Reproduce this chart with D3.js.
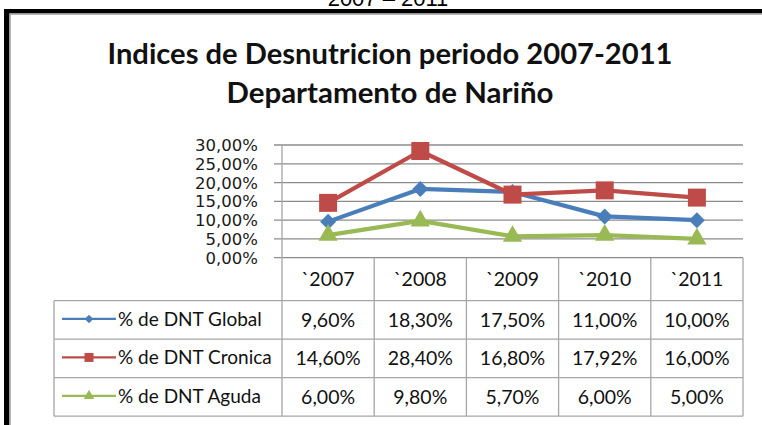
<!DOCTYPE html>
<html>
<head>
<meta charset="utf-8">
<script src="https://cdn.jsdelivr.net/npm/d3@7"></script>
<style>
  body { margin: 0; background: #fff; }
</style>
</head>
<body>
<div id="chart"></div>
<script>
// Datos
var years = ["`2007", "`2008", "`2009", "`2010", "`2011"];
var seriesNames = ["% de DNT Global", "% de DNT Cronica", "% de DNT Aguda"];
var global = [9.60, 18.30, 17.50, 11.00, 10.00];
var cronica = [14.60, 28.40, 16.80, 17.92, 16.00];
var aguda = [6.00, 9.80, 5.70, 6.00, 5.00];
var yTicks = [0, 5, 10, 15, 20, 25, 30];
var titleLines = ["Indices de Desnutricion periodo 2007-2011", "Departamento de Nariño"];
var topCaption = "2007 – 2011";

var series = [
    { name: seriesNames[0], values: global, color: "#4a7ebb", shape: "diamond" },
    { name: seriesNames[1], values: cronica, color: "#be4b48", shape: "square" },
    { name: seriesNames[2], values: aguda, color: "#98b954", shape: "triangle" }
];

var W = 762, H = 425;
var fontUI = "Lato, 'Open Sans', sans-serif";

var svg = d3.select("#chart").append("svg")
    .attr("width", W)
    .attr("height", H);

// texto cortado arriba
svg.append("text")
    .attr("x", 388).attr("y", 6)
    .attr("text-anchor", "middle")
    .style("font-family", "'Liberation Sans', Arial, sans-serif")
    .style("font-size", "22px")
    .attr("fill", "#000")
    .text(topCaption);

// borde del grafico
svg.append("rect").attr("x", 4).attr("y", 9).attr("width", W - 4).attr("height", 4.5).attr("fill", "#000");
svg.append("rect").attr("x", 4).attr("y", 9).attr("width", 5.5).attr("height", H - 9).attr("fill", "#000");
svg.append("path")
    .attr("d", "M 10 " + H + " L 10 14 L " + W + " 14")
    .attr("fill", "none").attr("stroke", "#a0a0a0").attr("stroke-width", 1.5);

// titulo
var titleWidths = [565, 327];
svg.selectAll("text.title").data(titleLines).enter().append("text")
    .attr("class", "title")
    .attr("x", 390)
    .attr("y", (d, i) => 64 + i * 39)
    .attr("text-anchor", "middle")
    .attr("textLength", (d, i) => titleWidths[i])
    .attr("lengthAdjust", "spacingAndGlyphs")
    .style("font-family", fontUI)
    .style("font-size", "28px")
    .style("font-weight", "bold")
    .attr("fill", "#111")
    .text(d => d);

// Escalas
var x = d3.scaleBand()
    .domain(years)
    .range([282, 743]);

var y = d3.scaleLinear()
    .domain([0, 30])
    .range([257.7, 145]);

var fmt = v => d3.format(".2f")(v).replace(".", ",") + "%";

// rejilla
var grid = svg.append("g");
grid.selectAll("line").data(yTicks).enter().append("line")
    .attr("x1", 274).attr("x2", 743)
    .attr("y1", d => y(d)).attr("y2", d => y(d))
    .attr("stroke", "#8c8c8c").attr("stroke-width", 1.3);

svg.append("g").selectAll("text").data(yTicks).enter().append("text")
    .attr("x", 258)
    .attr("y", d => y(d) + 6)
    .attr("text-anchor", "end")
    .style("font-family", "'DejaVu Sans', sans-serif")
    .style("font-size", "16.5px")
    .attr("fill", "#1a1a1a")
    .text(fmt);

// tabla de datos
var rowTop = 300.7, rowH = 38.5;
var tbl = svg.append("g")
    .attr("fill", "none")
    .attr("stroke", "#a6a6a6")
    .attr("stroke-width", 1.3);

// lineas verticales de columnas
var colEdges = years.map(d => x(d)).concat([x.range()[1]]);
tbl.selectAll("line.v").data(colEdges).enter().append("line")
    .attr("class", "v")
    .attr("x1", d => d).attr("x2", d => d)
    .attr("y1", (d, i) => i === 0 ? 145 : y(0))
    .attr("y2", rowTop + rowH * series.length);
tbl.append("line").attr("x1", 54).attr("x2", 54)
    .attr("y1", rowTop).attr("y2", rowTop + rowH * series.length);

// lineas horizontales
var rowEdges = d3.range(series.length + 1).map(i => rowTop + i * rowH);
tbl.selectAll("line.h").data(rowEdges).enter().append("line")
    .attr("class", "h")
    .attr("x1", 54).attr("x2", 743)
    .attr("y1", d => d).attr("y2", d => d);

// encabezados de anio
svg.append("g").selectAll("text").data(years).enter().append("text")
    .attr("x", d => x(d) + x.bandwidth() / 2)
    .attr("y", 286)
    .attr("text-anchor", "middle")
    .style("font-family", fontUI)
    .style("font-size", "19.5px")
    .attr("fill", "#111")
    .text(d => d);

// simbolos
function symbolPath(shape, big) {
    if (shape === "diamond") return d3.symbol(d3.symbolSquare, big ? 128 : 36)();
    if (shape === "square") return d3.symbol(d3.symbolSquare, big ? 324 : 81)();
    return d3.symbol(d3.symbolTriangle, big ? 160 : 48)();
}
function symbolRotate(shape) {
    return shape === "diamond" ? " rotate(45)" : "";
}

var line = d3.line()
    .x((d, i) => x(years[i]) + x.bandwidth() / 2)
    .y(d => y(d));

var rows = svg.selectAll("g.serie").data(series).enter().append("g")
    .attr("class", "serie");

// lineas del grafico
rows.append("path")
    .attr("d", d => line(d.values))
    .attr("fill", "none")
    .attr("stroke", d => d.color)
    .attr("stroke-width", 4.2)
    .attr("stroke-linejoin", "round");

rows.each(function (s) {
    d3.select(this).selectAll("path.mk").data(s.values).enter().append("path")
        .attr("class", "mk")
        .attr("d", symbolPath(s.shape, true))
        .attr("transform", (d, i) => "translate(" + (x(years[i]) + x.bandwidth() / 2) + "," + y(d) + ")" + symbolRotate(s.shape))
        .attr("fill", s.color);
});

// leyenda y valores en la tabla
rows.each(function (s, r) {
    var g = d3.select(this);
    var cy = rowTop + r * rowH + rowH / 2;
    g.append("line")
        .attr("x1", 62).attr("x2", 116)
        .attr("y1", cy - 1).attr("y2", cy - 1)
        .attr("stroke", s.color).attr("stroke-width", 2.2);
    g.append("path")
        .attr("d", symbolPath(s.shape, false))
        .attr("transform", "translate(89," + (cy - 1) + ")" + symbolRotate(s.shape))
        .attr("fill", s.color);
    g.append("text")
        .attr("x", 118).attr("y", cy + 6)
        .style("font-family", fontUI)
        .style("font-size", "19px")
        .attr("fill", "#111")
        .text(s.name);
    g.selectAll("text.val").data(s.values).enter().append("text")
        .attr("class", "val")
        .attr("x", (d, i) => x(years[i]) + x.bandwidth() / 2)
        .attr("y", cy + 7)
        .attr("text-anchor", "middle")
        .style("font-family", fontUI)
        .style("font-size", "19.5px")
        .attr("fill", "#111")
        .text(fmt);
});
</script>
</body>
</html>
